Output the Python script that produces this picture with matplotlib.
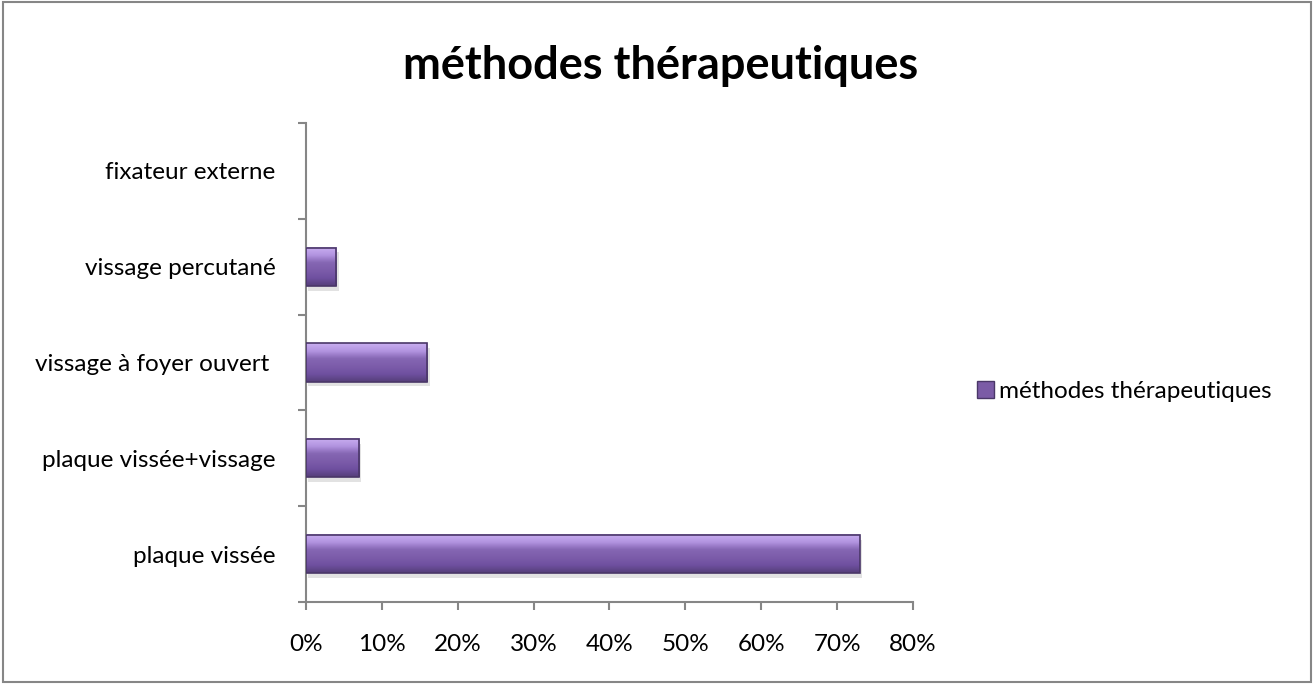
import matplotlib
matplotlib.use('Agg')
import matplotlib.pyplot as plt
import numpy as np
from matplotlib.patches import Rectangle
from matplotlib.colors import LinearSegmentedColormap

plt.rcParams['font.family'] = ['Lato', 'DejaVu Sans']

categories = ['plaque vissée', 'plaque vissée+vissage', 'vissage à foyer ouvert ',
              'vissage percutané', 'fixateur externe']
values = [73, 7, 16, 4, 0]
series_name = 'méthodes thérapeutiques'
xticks = [0, 10, 20, 30, 40, 50, 60, 70, 80]

fig = plt.figure(figsize=(13.14, 6.84), dpi=100)
fig.patches.append(Rectangle((0.002, 0.003), 0.996, 0.994, transform=fig.transFigure,
                             fill=False, edgecolor='#868686', linewidth=1.5))
ax = fig.add_axes([0.2329, 0.1199, 0.4619, 0.7003])

pos = np.arange(len(categories))
h = 0.4
bars = ax.barh(pos, values, height=h, color='#7B5BA6', linewidth=0, zorder=3)

# bevel style gradient on each bar
cmap = LinearSegmentedColormap.from_list('bev', ['#553F7A', '#6F50A0', '#7C5CAA', '#8566B3', '#B294E0', '#C9AEF0'])
grad = np.linspace(0, 1, 64).reshape(-1, 1)
for b in bars:
    if b.get_width() <= 0:
        continue
    x0, y0, w, hh = b.get_x(), b.get_y(), b.get_width(), b.get_height()
    ax.imshow(grad, extent=(x0, x0 + w, y0, y0 + hh), origin='lower', cmap=cmap,
              aspect='auto', zorder=3.5, interpolation='bicubic')
    ax.add_patch(Rectangle((x0, y0), w, hh, fill=False, edgecolor='#4A3768', linewidth=1.2, zorder=4))
    # shadow
    ax.add_patch(Rectangle((x0 + 0.3, y0 - 0.05), w, hh, color='#D0D0D0', alpha=0.6, zorder=2, linewidth=0))

ax.set_xlim(0, 80)
ax.set_ylim(-0.5, len(categories) - 0.5)
ax.set_xticks(xticks)
ax.set_xticklabels(['{}%'.format(t) for t in xticks], fontsize=17.5)
ax.set_yticks(pos)
ax.set_yticklabels(categories, fontsize=17.5)
ax.set_yticks(np.arange(len(categories) + 1) - 0.5, minor=True)
ax.tick_params(axis='y', which='major', length=0, pad=22)
ax.tick_params(axis='y', which='minor', length=6, color='#868686', width=1.5)
ax.tick_params(axis='x', length=6, color='#868686', width=1.5, pad=17)
for s in ['top', 'right']:
    ax.spines[s].set_visible(False)
for s in ['left', 'bottom']:
    ax.spines[s].set_color('#868686')
    ax.spines[s].set_linewidth(1.5)

fig.text(0.503, 0.903, series_name, ha='center', va='center', fontsize=32.5, fontweight='bold')
leg_patch = Rectangle((0, 0), 1, 1, facecolor='#7B5BA6', edgecolor='#4A3768')
fig.legend([leg_patch], [series_name], loc='center left', bbox_to_anchor=(0.727, 0.427),
           frameon=False, fontsize=17.5, handlelength=0.7, handleheight=0.7, handletextpad=0.2)

fig.savefig('out.png', dpi=100)
